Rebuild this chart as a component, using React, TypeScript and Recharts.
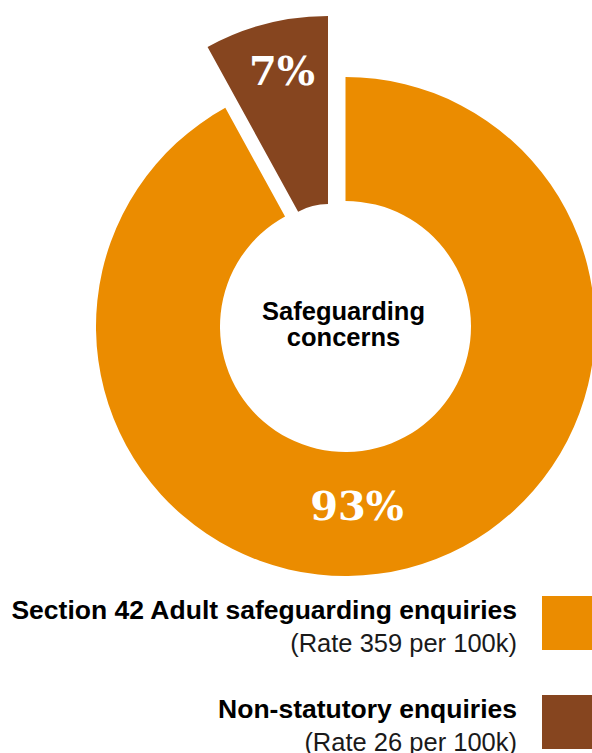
import { PieChart, Pie, Cell, Legend } from 'recharts';

const categories = ['Section 42 Adult safeguarding enquiries', 'Non-statutory enquiries'];
const rates = ['(Rate 359 per 100k)', '(Rate 26 per 100k)'];
// arc sizes as drawn in the graphic
const shares = [92, 8];
const shareLabels = ['93%', '7%'];
const COLORS = ['#EB8C00', '#86451F'];

const data = categories.map((name, i) => ({
  name,
  share: shares[i],
  label: shareLabels[i],
}));

const W = 592;
const H = 753;
const LEGEND_TOP = 585;

const pctStyle = {
  fontFamily: '"DejaVu Serif", serif',
  fontWeight: 700,
  fontSize: 40,
  fill: '#fff',
};

const sansFont = '"Liberation Sans", Arial, sans-serif';

// label for the main ring: 93% + centre title
const renderMainLabel = (props: any) => {
  const { cx, cy, index } = props;
  if (index !== 0) return null;
  return (
    <g>
      <text x={cx + 11.5} y={cy + 193.5} textAnchor="middle" style={pctStyle}>
        {data[0].label}
      </text>
      <text
        x={cx - 2}
        y={cy - 6.5}
        textAnchor="middle"
        fontFamily={sansFont}
        fontWeight={700}
        fontSize={25.5}
        fill="#000"
      >
        Safeguarding
      </text>
      <text
        x={cx - 2}
        y={cy + 19.5}
        textAnchor="middle"
        fontFamily={sansFont}
        fontWeight={700}
        fontSize={25.5}
        fill="#000"
      >
        concerns
      </text>
    </g>
  );
};

// label for the pulled-out slice
const renderOutLabel = (props: any) => {
  const { cx, cy, index } = props;
  if (index !== 1) return null;
  return (
    <text x={cx - 46} y={cy - 181} textAnchor="middle" style={pctStyle}>
      {data[1].label}
    </text>
  );
};

const renderLegend = () => (
  <svg width={W} height={H - LEGEND_TOP} style={{ display: 'block' }}>
    {categories.map((name, i) => {
      const top = 11 + i * 99;
      return (
        <g key={name}>
          <text
            x={517}
            y={top + 23}
            textAnchor="end"
            fontFamily={sansFont}
            fontWeight={700}
            fontSize={26.5}
            fill="#000"
          >
            {name}
          </text>
          <text
            x={517}
            y={top + 56}
            textAnchor="end"
            fontFamily={sansFont}
            fontSize={25.5}
            fill="#1a1a1a"
          >
            {rates[i]}
          </text>
          <rect x={542} y={top} width={54} height={54} fill={COLORS[i]} />
        </g>
      );
    })}
  </svg>
);

export default function App() {
  return (
    <div style={{ position: 'absolute', left: 0, top: 0, width: W, height: H, background: '#fff' }}>
      <PieChart width={W} height={H} margin={{ top: 0, right: 0, bottom: 0, left: 0 }}>
        <Pie
          data={data}
          dataKey="share"
          nameKey="name"
          cx={345.5}
          cy={326.5}
          innerRadius={125.5}
          outerRadius={249.5}
          startAngle={90}
          endAngle={-270}
          stroke="none"
          label={renderMainLabel}
          labelLine={false}
          isAnimationActive={false}
        >
          {data.map((d, i) => (
            <Cell key={d.name} fill={i === 0 ? COLORS[0] : 'none'} />
          ))}
        </Pie>
        <Pie
          data={data}
          dataKey="share"
          nameKey="name"
          cx={328}
          cy={266}
          innerRadius={62}
          outerRadius={250}
          startAngle={90}
          endAngle={-270}
          stroke="none"
          label={renderOutLabel}
          labelLine={false}
          isAnimationActive={false}
        >
          {data.map((d, i) => (
            <Cell key={d.name} fill={i === 1 ? COLORS[1] : 'none'} />
          ))}
        </Pie>
        <Legend
          content={renderLegend}
          wrapperStyle={{ position: 'absolute', left: 0, top: LEGEND_TOP, width: W, height: H - LEGEND_TOP }}
        />
      </PieChart>
    </div>
  );
}
